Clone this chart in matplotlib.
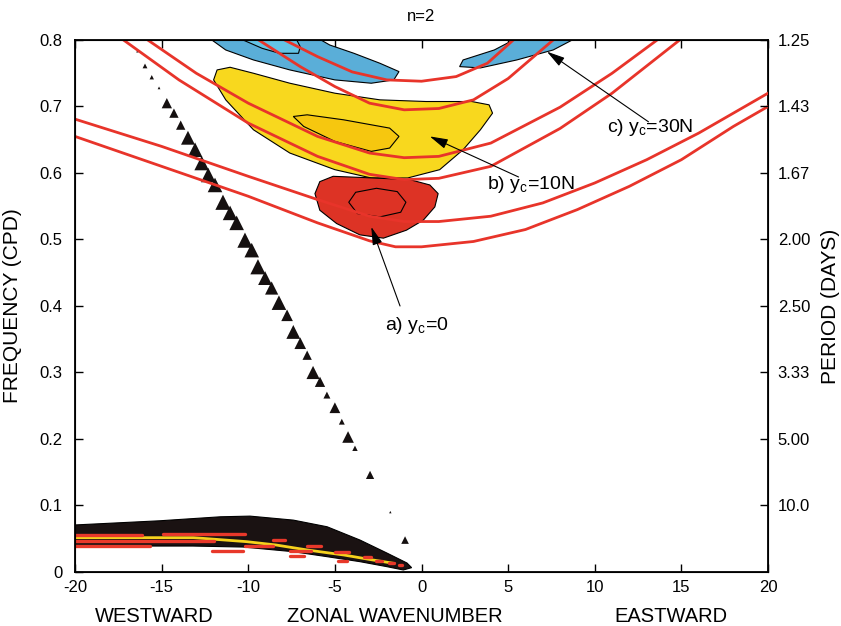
import matplotlib
matplotlib.use("Agg")
import matplotlib.pyplot as plt

plt.rcParams['font.family'] = ['Liberation Sans', 'DejaVu Sans']
plt.rcParams['axes.unicode_minus'] = False
plt.rcParams['mathtext.fontset'] = 'custom'
plt.rcParams['mathtext.rm'] = 'Liberation Sans'
plt.rcParams['mathtext.it'] = 'Liberation Sans'

# dispersion curves (zonal wavenumber, frequency in cpd)
a1_k = [-20, -15, -10, -6, -3, -1.5, 0, 3, 6, 9, 12, 15, 18, 20]
a1_f = [0.655, 0.61, 0.565, 0.525, 0.498, 0.489, 0.489, 0.497, 0.515, 0.545, 0.58, 0.62, 0.67, 0.70]
a2_k = [-20, -15, -10, -6, -3, -1, 1, 4, 7, 10, 13, 16, 18, 20]
a2_f = [0.681, 0.64, 0.595, 0.56, 0.535, 0.527, 0.527, 0.535, 0.555, 0.585, 0.62, 0.66, 0.69, 0.72]
b1_k = [-17.2, -14, -10, -6, -3, -1, 1, 4, 8, 11, 14.9]
b1_f = [0.80, 0.74, 0.675, 0.625, 0.598, 0.59, 0.592, 0.61, 0.667, 0.72, 0.80]
b2_k = [-15.8, -13, -10, -6, -3, -1, 1, 4, 8, 11, 13.6]
b2_f = [0.80, 0.75, 0.705, 0.655, 0.63, 0.623, 0.625, 0.645, 0.699, 0.75, 0.80]
c1_k = [-9.4, -7, -5, -3, -1, 1, 3, 5, 7.6]
c1_f = [0.80, 0.76, 0.73, 0.705, 0.695, 0.697, 0.71, 0.742, 0.80]
c2_k = [-7.9, -6, -4, -2, 0, 2, 3.8, 5.3]
c2_f = [0.80, 0.775, 0.752, 0.74, 0.738, 0.745, 0.765, 0.80]

# spectral peaks (outer / inner contours)
red_k = [-6.15, -5.87, -5.1, -3.2, -0.67, 0.48, 0.96, 0.77, 0.1, -0.87, -2.2, -3.56, -4.9, -5.87]
red_f = [0.569, 0.587, 0.595, 0.593, 0.59, 0.582, 0.569, 0.549, 0.529, 0.514, 0.502, 0.507, 0.524, 0.544]
red_in_k = [-4.2, -3.8, -2.6, -1.4, -0.9, -1.2, -2.4, -3.7, -4.2]
red_in_f = [0.556, 0.571, 0.577, 0.572, 0.556, 0.541, 0.534, 0.539, 0.556]

yel_k = [-11.8, -12.0, -11.3, -9.7, -7.6, -5.0, -2.9, -0.8, 1.05, 2.4, 3.4, 4.1, 3.9, 2.9, 0.26,
         -2.4, -5.0, -7.6, -9.7, -11.05]
yel_f = [0.755, 0.74, 0.71, 0.665, 0.63, 0.605, 0.5925, 0.5925, 0.605, 0.635, 0.665, 0.69, 0.7025,
         0.7075, 0.7075, 0.71, 0.72, 0.735, 0.75, 0.759]
yel_in_k = [-7.4, -6.8, -5.0, -2.9, -1.84, -1.3, -1.84, -4.5, -6.6]
yel_in_f = [0.685, 0.67, 0.6475, 0.6325, 0.6375, 0.655, 0.6675, 0.68, 0.6875]

blue_l_k = [-12.1, -11.3, -9.7, -7.6, -5.0, -2.9, -1.6, -1.3, -2.4, -3.9, -5.3, -5.8, -5.8, -12.3]
blue_l_f = [0.80, 0.785, 0.77, 0.755, 0.74, 0.735, 0.74, 0.7525, 0.765, 0.78, 0.7925, 0.80, 0.83, 0.83]
blue_in_k = [-10.3, -9.2, -8.2, -7.1, -7.0, -7.2, -7.2, -10.3]
blue_in_f = [0.80, 0.7875, 0.78, 0.78, 0.79, 0.80, 0.83, 0.83]
blue_r_k = [2.2, 2.4, 4.2, 5.3, 5.3, 8.9, 8.7, 7.6, 5.5, 3.4]
blue_r_f = [0.76, 0.77, 0.785, 0.80, 0.83, 0.83, 0.80, 0.785, 0.77, 0.758]

# westward (Rossby) peaks
ross_k = [-16.4, -15.96, -15.57, -15.15, -14.7, -14.29, -13.9, -13.48, -13.07, -12.69, -12.31,
          -11.92, -11.46, -11.05, -10.67, -10.19, -9.8, -9.44, -9.03, -8.65, -8.23, -7.76, -7.4,
          -7.0, -6.6, -6.26, -5.86, -5.46, -5.0, -4.6, -4.24, -3.84, -2.97, -1.8, -0.95]
ross_f = [0.783, 0.761, 0.744, 0.728, 0.705, 0.690, 0.672, 0.653, 0.635, 0.615, 0.597, 0.582,
          0.556, 0.540, 0.525, 0.499, 0.484, 0.459, 0.442, 0.427, 0.405, 0.386, 0.361, 0.344,
          0.326, 0.300, 0.286, 0.266, 0.247, 0.226, 0.203, 0.186, 0.146, 0.090, 0.048]
ross_s = [3, 12, 10, 4, 55, 45, 45, 100, 110, 110, 110, 110, 120, 110, 110, 120, 110, 120, 100,
          90, 110, 70, 100, 70, 45, 90, 55, 25, 60, 18, 70, 15, 35, 3, 30]

# low-frequency band
low_k = [-20.0, -15.1, -11.6, -9.9, -7.4, -5.45, -3.55, -2.0, -0.84, -0.57, -1.05, -2.0, -3.55,
         -5.45, -7.4, -10.3, -13.2, -17.0, -20.0]
low_f = [0.0707, 0.077, 0.083, 0.084, 0.078, 0.068, 0.048, 0.0285, 0.0135, 0.0065, 0.003, 0.008,
         0.0155, 0.023, 0.0305, 0.0375, 0.039, 0.039, 0.038]
dash_k0 = [-20.0, -14.9, -20.0, -20.0, -12.1, -8.6, -10.2, -7.6, -7.6, -6.6, -5.0, -4.8,
           -3.3, -2.6, -1.9, -1.3]
dash_k1 = [-16.15, -10.2, -12.0, -15.7, -10.3, -7.9, -8.6, -6.4, -6.8, -5.8, -4.2, -4.3,
           -2.9, -2.3, -1.6, -1.1]
dash_f = [0.0556, 0.0566, 0.047, 0.0396, 0.0315, 0.048, 0.039, 0.0315, 0.024, 0.039, 0.030,
          0.016, 0.022, 0.016, 0.014, 0.010]
yl_k = [-20.0, -13.17, -10.1, -8.4, -6.6, -4.5, -2.8, -1.6]
yl_f = [0.0516, 0.0516, 0.0456, 0.0406, 0.0331, 0.0256, 0.018, 0.013]

period_f = [0.8, 0.7, 0.6, 0.5, 0.4, 0.3, 0.2, 0.1]
period_lab = ['1.25', '1.43', '1.67', '2.00', '2.50', '3.33', '5.00', '10.0']

fig = plt.figure(figsize=(8.41, 6.26), dpi=100)
ax = fig.add_axes([0.0892, 0.0863, 0.824, 0.8498])

ax.fill(blue_l_k, blue_l_f, color='#5AAED8', ec='black', lw=0.8, zorder=2)
ax.fill(blue_in_k, blue_in_f, color='#63C4E6', ec='black', lw=0.8, zorder=2)
ax.fill(blue_r_k, blue_r_f, color='#5AAED8', ec='black', lw=0.8, zorder=2)
ax.fill(yel_k, yel_f, color='#F8D81E', ec='black', lw=0.8, zorder=2)
ax.fill(yel_in_k, yel_in_f, color='#F6C70F', ec='black', lw=0.8, zorder=2)
ax.fill(red_k, red_f, color='#DD3325', ec='black', lw=0.8, zorder=2)
ax.fill(red_in_k, red_in_f, color='#DD3325', ec='black', lw=0.8, zorder=2)

ax.fill(low_k, low_f, color='#1a1212', ec='black', lw=0.8, zorder=2)
ax.plot(yl_k, yl_f, color='#F6D21C', lw=2, zorder=3)
for k0, k1, f in zip(dash_k0, dash_k1, dash_f):
    ax.plot([k0, k1], [f, f], color='#E8382A', lw=2.4, zorder=3, solid_capstyle='round')

ax.scatter(ross_k, ross_f, s=ross_s, marker='^', color='#151010', lw=0, zorder=3)

for kk, ff in [(a1_k, a1_f), (a2_k, a2_f), (b1_k, b1_f), (b2_k, b2_f), (c1_k, c1_f), (c2_k, c2_f)]:
    ax.plot(kk, ff, color='#E8342A', lw=2, zorder=4)

arrow = dict(arrowstyle='-|>,head_length=1.1,head_width=0.3', color='black', lw=0.8,
             shrinkA=0, shrinkB=0)
tfont = dict(fontsize=14, va='center')
ax.annotate('', xy=(-2.9, 0.519), xytext=(-1.24, 0.40), arrowprops=arrow, zorder=5)
ax.text(-2.1, 0.371, r'a) y$_{\mathrm{c}}$=0', **tfont)
ax.annotate('', xy=(0.48, 0.655), xytext=(5.6, 0.594), arrowprops=arrow, zorder=5)
ax.text(3.8, 0.582, r'b) y$_{\mathrm{c}}$=10N', **tfont)
ax.annotate('', xy=(7.24, 0.7825), xytext=(13.1, 0.677), arrowprops=arrow, zorder=5)
ax.text(10.7, 0.668, r'c) y$_{\mathrm{c}}$=30N', **tfont)

ax.set_xlim(-20, 20)
ax.set_ylim(0, 0.8)
ax.set_xticks(range(-20, 21, 5))
ax.set_yticks([0, 0.1, 0.2, 0.3, 0.4, 0.5, 0.6, 0.7, 0.8])
ax.set_yticklabels(['0', '0.1', '0.2', '0.3', '0.4', '0.5', '0.6', '0.7', '0.8'])
ax.tick_params(direction='in', top=True, length=6, width=1, labelsize=12)
ax.tick_params(axis='y', pad=9)
ax.tick_params(axis='x', pad=6)
for sp in ax.spines.values():
    sp.set_linewidth(1.3)
ax.set_ylabel('FREQUENCY (CPD)', fontsize=15)
ax.yaxis.set_label_coords(-0.0765, 0.5)
ax.set_title('n=2', fontsize=12, pad=14)

ax2 = ax.twinx()
ax2.set_ylim(0, 0.8)
ax2.set_yticks(period_f)
ax2.set_yticklabels(period_lab)
ax2.tick_params(direction='in', length=6, width=1, labelsize=12, pad=7)
ax2.set_ylabel('PERIOD (DAYS)', fontsize=15, rotation=90)
ax2.yaxis.set_label_coords(1.076, 0.5)

bfont = dict(fontsize=14.5, ha='center', va='center')
fig.text(0.183, 0.0144, 'WESTWARD', **bfont)
fig.text(0.47, 0.0144, 'ZONAL WAVENUMBER', **bfont)
fig.text(0.798, 0.0144, 'EASTWARD', **bfont)

fig.savefig('out.png', dpi=100)
